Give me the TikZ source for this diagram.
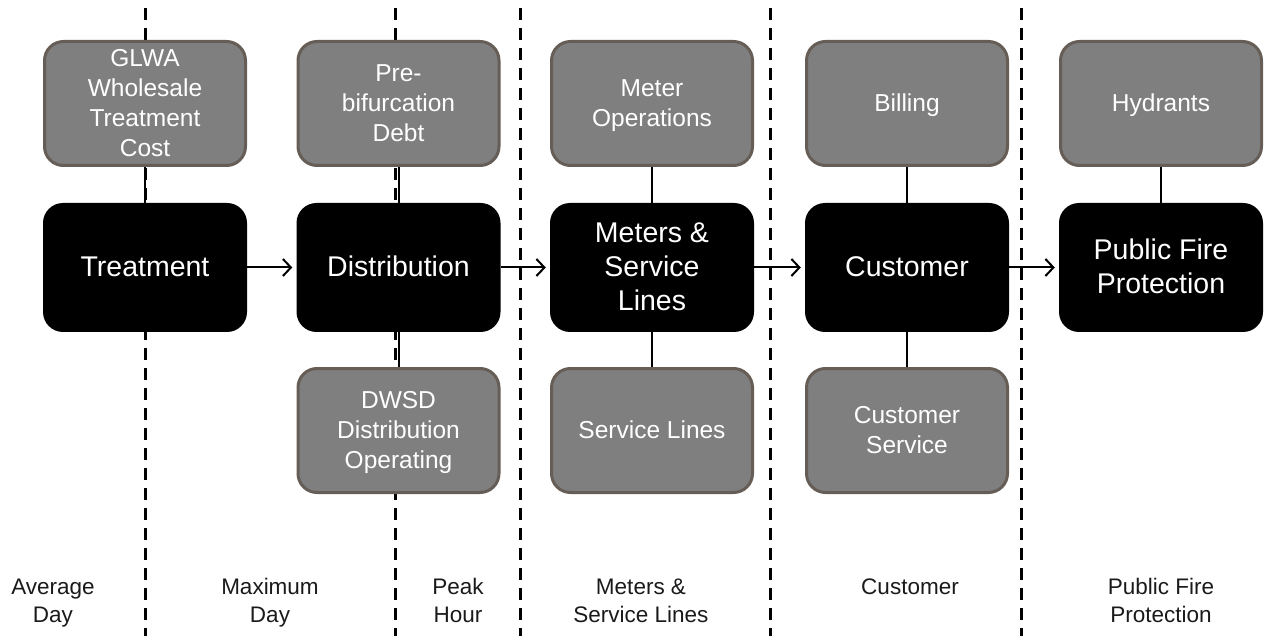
\documentclass[tikz,border=0pt]{standalone}
\usepackage{fontspec}
\setmainfont{Liberation Sans}
\usetikzlibrary{arrows.meta}
\definecolor{boxgray}{HTML}{7F7F7F}
\definecolor{boxedge}{HTML}{665E56}
\definecolor{labeltext}{HTML}{1A1A1A}
\newcommand\vst{\vrule width0pt height0.88em depth0.24em\relax}
\tikzset{
  graybox/.style={draw=boxedge, line width=3pt, fill=boxgray, rounded corners=19pt,
    minimum width=201pt, minimum height=124pt, align=center, text=white,
    font=\fontsize{24.5}{30}\selectfont, inner sep=0pt},
  blackbox/.style={fill=black, rounded corners=20pt,
    minimum width=204pt, minimum height=129pt, align=center, text=white,
    font=\fontsize{28.5}{34}\selectfont, inner sep=0pt},
  divider/.style={line width=3pt, dash pattern=on 12pt off 8pt},
  link/.style={line width=2pt},
  flow/.style={line width=2pt, -{Straight Barb[length=8pt,width=17pt,line width=2pt]}, shorten >=4pt},
  bottomlabel/.style={align=center, text=labeltext, font=\fontsize{22.5}{28}\selectfont, inner sep=0pt, anchor=north}
}
\begin{document}
\begin{tikzpicture}[x=1pt,y=-1pt]
\useasboundingbox (0,0) rectangle (1264,636);
% dividers
\coordinate (d1t) at (145,8);   \coordinate (d1b) at (145,636);
\coordinate (d2t) at (395,8);   \coordinate (d2b) at (395,636);
\coordinate (d3t) at (520,8);   \coordinate (d3b) at (520,636);
\coordinate (d4t) at (770,8);   \coordinate (d4b) at (770,636);
\coordinate (d5t) at (1021,8);  \coordinate (d5b) at (1021,636);
\draw[divider] (d1t) -- (d1b);
\draw[divider] (d2t) -- (d2b);
\draw[divider] (d3t) -- (d3b);
\draw[divider] (d4t) -- (d4b);
\draw[divider] (d5t) -- (d5b);
% top gray boxes
\node[graybox] (glwa) at (145,103.5) {GLWA\vst\\Wholesale\vst\\Treatment\vst\\Cost\vst};
\node[graybox] (pre) at (398.5,103.5) {Pre-\vst\\bifurcation\vst\\Debt\vst};
\node[graybox] (meterops) at (652,103.5) {Meter\vst\\Operations\vst};
\node[graybox] (billing) at (907,103.5) {Billing\vst};
\node[graybox] (hydrants) at (1161,103.5) {Hydrants\vst};
% black boxes
\node[blackbox] (treat) at (145,267.5) {Treatment\vst};
\node[blackbox] (dist) at (398.5,267.5) {Distribution\vst};
\node[blackbox] (meters) at (652,267.5) {Meters \&\vst\\Service\vst\\Lines\vst};
\node[blackbox] (cust) at (907,267.5) {Customer\vst};
\node[blackbox] (fire) at (1161,267.5) {Public Fire\vst\\Protection\vst};
% bottom gray boxes
\node[graybox] (dwsd) at (398.5,430.5) {DWSD\vst\\Distribution\vst\\Operating\vst};
\node[graybox] (service) at (652,430.5) {Service Lines\vst};
\node[graybox] (custserv) at (907,430.5) {Customer\vst\\Service\vst};
% vertical links
\draw[link] (glwa) -- (treat);
\draw[link] (pre) -- (dist);
\draw[link] (meterops) -- (meters);
\draw[link] (billing) -- (cust);
\draw[link] (hydrants) -- (fire);
\draw[link] (dist) -- (dwsd);
\draw[link] (meters) -- (service);
\draw[link] (cust) -- (custserv);
% flow arrows
\draw[flow] (treat) -- (dist);
\draw[flow] (dist) -- (meters);
\draw[flow] (meters) -- (cust);
\draw[flow] (cust) -- (fire);
% bottom labels
\node[bottomlabel] (lavg) at (53,575) {Average\strut\\Day\strut};
\node[bottomlabel] (lmax) at (270,575) {Maximum\strut\\Day\strut};
\node[bottomlabel] (lpeak) at (458,575) {Peak\strut\\Hour\strut};
\node[bottomlabel] (lmet) at (641,575) {Meters \&\strut\\Service Lines\strut};
\node[bottomlabel] (lcust) at (910,575) {Customer\strut};
\node[bottomlabel] (lfire) at (1161,575) {Public Fire\strut\\Protection\strut};
\end{tikzpicture}
\end{document}
